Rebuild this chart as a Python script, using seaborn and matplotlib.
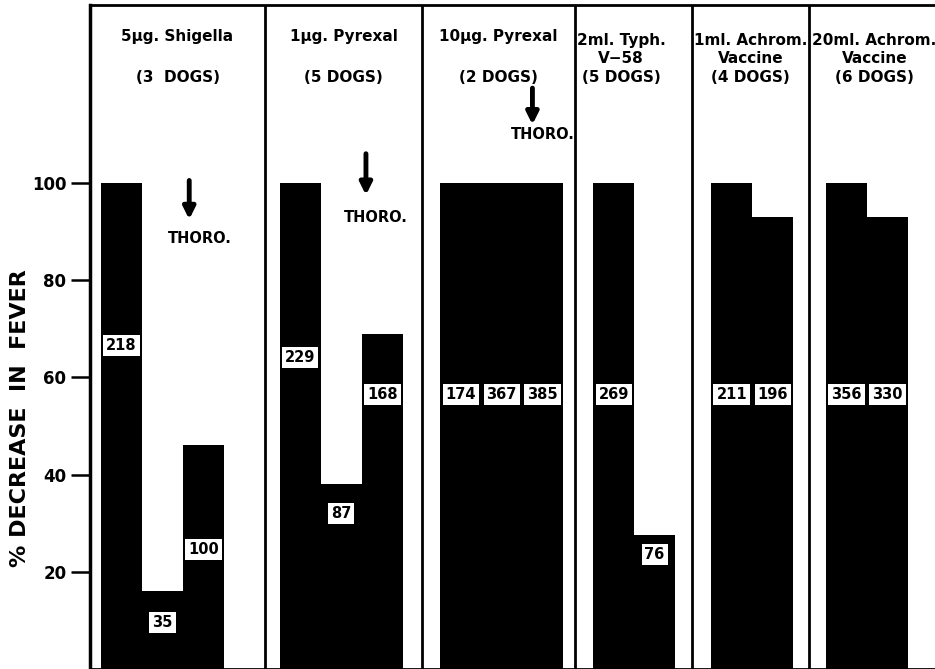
import numpy as np
import pandas as pd
import matplotlib
matplotlib.use('Agg')
import matplotlib.pyplot as plt
import seaborn as sns

# Panel headings (line 1, line 2, line 3)
line1 = ['5µg. Shigella', '1µg. Pyrexal', '10µg. Pyrexal', '2ml. Typh.', '1ml. Achrom.', '20ml. Achrom.']
line2 = ['', '', '', 'V\u221258', 'Vaccine', 'Vaccine']
line3 = ['(3  DOGS)', '(5 DOGS)', '(2 DOGS)', '(5 DOGS)', '(4 DOGS)', '(6 DOGS)']

# % decrease in fever, one list per panel
pct = [[100, 16, 46],
       [100, 38, 69],
       [100, 100, 100],
       [100, 27.5],
       [100, 93],
       [100, 93]]

# numbers written in the white boxes
box_txt = [['218', '35', '100'],
           ['229', '87', '168'],
           ['174', '367', '385'],
           ['269', '76'],
           ['211', '196'],
           ['356', '330']]
box_y = [[66.5, 9.5, 24.5],
         [64, 32, 56.5],
         [56.5, 56.5, 56.5],
         [56.5, 23.5],
         [56.5, 56.5],
         [56.5, 56.5]]

# THORO. arrows: panel index, bar slot, arrow top/tip, text y
thoro_panel = [0, 1, 2]
thoro_slot = [2.15, 2.1, 2.25]
thoro_top = [100.5, 106, 119.5]
thoro_tip = [92.5, 97.5, 112]
thoro_text_y = [88.5, 92.8, 110]

yticks = [20, 40, 60, 80, 100]

# layout (x unit = one bar width)
panel_left = [0, 4.27, 8.10, 11.83, 14.68, 17.54]
x_right = 20.73
pad = [0.27, 0.36, 0.44, 0.44, 0.47, 0.41]
y_top = 136.6

rows = []
for p, vals in enumerate(pct):
    for i, v in enumerate(vals):
        rows.append({'x': panel_left[p] + pad[p] + i + 0.5, 'pct': v,
                     'txt': box_txt[p][i], 'ty': box_y[p][i]})
df = pd.DataFrame(rows)

sns.set_style('white')
plt.rcParams['font.family'] = ['DejaVu Sans']
plt.rcParams['font.weight'] = 'bold'
plt.rcParams['text.color'] = 'black'
plt.rcParams['ytick.color'] = 'black'
plt.rcParams['axes.labelcolor'] = 'black'

fig = plt.figure(figsize=(9.35, 6.69), dpi=100)
ax = fig.add_axes([90 / 935, 0, (940 - 90) / 935, 664 / 669])

sns.barplot(data=df, x='x', y='pct', native_scale=True, orient='x', width=1,
            color='black', saturation=1, errorbar=None, linewidth=0, ax=ax)

for _, r in df.iterrows():
    ax.text(r['x'], r['ty'], r['txt'], ha='center', va='center', fontsize=10.5,
            fontweight='bold', color='black',
            bbox=dict(boxstyle='square,pad=0.2', fc='white', ec='none'))

for xl in panel_left[1:]:
    ax.axvline(xl, color='black', lw=2)

edges = panel_left + [x_right]
for p in range(len(line1)):
    cx = (edges[p] + edges[p + 1]) / 2
    if p == 3:
        cx -= 0.3
    if line2[p]:
        ax.text(cx, 129.3, line1[p], ha='center', va='center', fontsize=11, fontweight='bold')
        ax.text(cx, 125.6, line2[p], ha='center', va='center', fontsize=11, fontweight='bold')
        ax.text(cx, 121.7, line3[p], ha='center', va='center', fontsize=11, fontweight='bold')
    else:
        ax.text(cx, 130.1, line1[p], ha='center', va='center', fontsize=11, fontweight='bold')
        ax.text(cx, 121.7, line3[p], ha='center', va='center', fontsize=11, fontweight='bold')

for k, p in enumerate(thoro_panel):
    ax_x = panel_left[p] + pad[p] + thoro_slot[k]
    ax.annotate('', xy=(ax_x, thoro_tip[k]), xytext=(ax_x, thoro_top[k]),
                arrowprops=dict(arrowstyle='-|>,head_width=0.35,head_length=0.7',
                                lw=3.5, color='black', shrinkA=0, shrinkB=0))
    ax.text(ax_x + 0.25, thoro_text_y[k], 'THORO.', ha='center', va='center',
            fontsize=10.5, fontweight='bold')

ax.set_xlim(0, x_right)
ax.set_ylim(0, y_top)
ax.set_xticks([])
ax.set_yticks(yticks)
ax.set_yticklabels([str(t) for t in yticks], fontsize=12, fontweight='bold')
ax.tick_params(axis='y', direction='out', length=14, width=1.8, pad=3, left=True,
               colors='black')
ax.set_xlabel('')
ax.set_ylabel('')
for s in ['left', 'top', 'bottom']:
    ax.spines[s].set_visible(True)
    ax.spines[s].set_color('black')
ax.spines['left'].set_linewidth(2.5)
ax.spines['top'].set_linewidth(2)
ax.spines['bottom'].set_linewidth(2)
ax.spines['right'].set_visible(False)

fig.text(20 / 935, 1 - 418 / 669, '% DECREASE  IN  FEVER', rotation=90,
         ha='center', va='center', fontsize=16, fontweight='bold', color='black')

fig.savefig('out.png', dpi=100)
